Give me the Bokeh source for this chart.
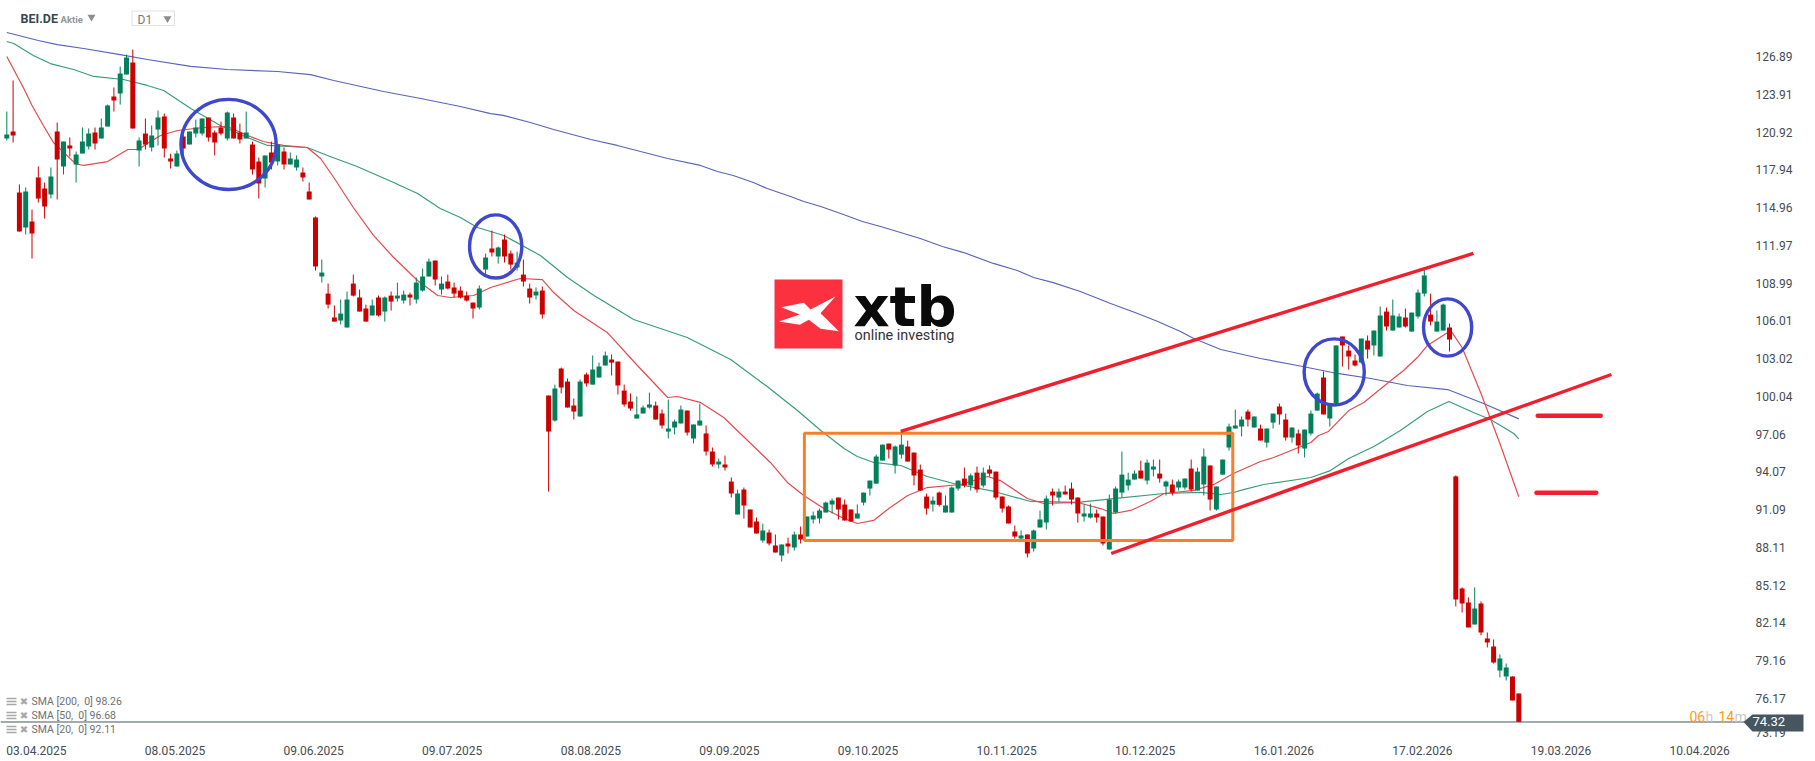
from bokeh.core.properties import value
from bokeh.embed import file_html
from bokeh.models import FixedTicker, Range1d
from bokeh.plotting import figure
from bokeh.resources import INLINE

#-------------- chart data ------------#
opens = [
    120.41, 120.96, 116.14, 113.38, 113.85, 117.33, 116.46, 115.99, 120.96, 118.20,
    119.86, 118.36, 119.22, 119.78, 120.88, 120.41, 121.36, 123.73, 123.96, 125.46,
    126.41, 119.46, 120.80, 119.70, 121.12, 122.15, 118.83, 118.20, 120.57, 119.94,
    120.80, 120.80, 122.07, 120.88, 121.28, 120.41, 122.07, 120.88, 120.41, 119.94,
    118.59, 117.25, 119.30, 118.59, 119.38, 118.36, 118.12, 117.72, 116.22, 114.17,
    109.51, 108.16, 106.27, 106.03, 105.48, 108.95, 107.85, 106.98, 106.43, 107.85,
    106.74, 108.00, 107.77, 107.61, 108.08, 107.69, 108.40, 109.51, 110.77, 108.48,
    109.11, 108.64, 108.40, 108.00, 107.45, 107.06, 110.06, 111.72, 111.09, 112.43,
    111.32, 110.22, 109.66, 108.56, 108.01, 108.40, 100.11, 98.13, 102.24, 101.21,
    99.32, 98.45, 101.77, 100.97, 101.53, 102.48, 102.95, 102.79, 100.50, 99.63,
    98.29, 98.69, 99.16, 99.32, 98.69, 97.26, 97.58, 97.90, 98.92, 96.71,
    97.74, 97.11, 95.68, 94.66, 94.66, 93.31, 90.71, 92.68, 91.10, 90.15,
    88.65, 89.28, 88.26, 87.47, 88.42, 88.10, 89.13, 88.97, 90.31, 90.39,
    90.87, 91.50, 92.05, 91.50, 91.10, 90.39, 91.65, 92.76, 93.15, 94.97,
    96.31, 94.58, 95.44, 96.08, 95.60, 94.26, 92.13, 91.50, 92.44, 90.86,
    90.86, 92.76, 93.55, 93.00, 94.02, 93.00, 94.26, 94.10, 92.13, 91.34,
    89.36, 88.81, 89.13, 88.02, 89.68, 90.07, 92.52, 92.05, 92.52, 92.76,
    92.05, 90.55, 90.47, 90.78, 90.55, 87.94, 90.86, 92.44, 93.00, 93.47,
    94.18, 93.39, 94.26, 93.94, 92.92, 93.08, 92.84, 92.84, 94.34, 92.60,
    93.08, 94.58, 91.10, 93.86, 96.00, 97.50, 97.66, 98.84, 97.58, 97.50,
    96.39, 97.97, 99.24, 98.21, 96.79, 97.11, 95.92, 97.11, 98.92, 101.53,
    98.29, 99.47, 104.77, 103.66, 102.87, 102.71, 104.45, 104.06, 103.19, 106.74,
    105.24, 105.48, 106.27, 105.16, 106.35, 108.16, 106.50, 105.16, 105.24, 105.48,
    93.72, 84.87, 83.76, 82.03, 83.68, 80.92, 80.29, 78.39, 77.92, 77.92,
    76.57,
]
highs = [
    122.54, 124.99, 116.78, 116.54, 114.80, 118.20, 116.93, 118.12, 121.67, 120.17,
    120.49, 119.38, 121.28, 121.20, 121.28, 121.99, 123.09, 124.44, 126.10, 127.04,
    127.44, 120.49, 121.99, 121.44, 122.62, 122.38, 119.20, 119.46, 120.96, 120.96,
    121.91, 121.99, 122.07, 121.04, 121.75, 122.54, 122.38, 121.59, 122.54, 120.17,
    118.91, 119.07, 120.17, 119.94, 119.70, 119.30, 119.07, 118.12, 116.93, 114.25,
    110.85, 108.95, 107.22, 107.69, 108.32, 109.66, 108.48, 107.29, 107.69, 108.00,
    107.93, 108.32, 109.03, 108.40, 108.24, 109.43, 110.14, 110.93, 110.77, 109.51,
    109.66, 109.03, 108.72, 108.32, 107.45, 108.80, 111.32, 113.14, 111.88, 112.82,
    111.56, 111.48, 110.85, 108.95, 108.64, 108.72, 100.11, 100.97, 102.32, 101.45,
    99.87, 101.37, 101.92, 103.27, 102.71, 103.58, 103.35, 102.79, 100.97, 100.27,
    100.03, 99.32, 100.34, 99.63, 99.00, 99.79, 98.21, 99.32, 98.92, 97.82,
    99.47, 97.74, 96.00, 95.13, 95.37, 93.63, 92.68, 92.84, 91.10, 90.47,
    89.99, 89.52, 89.13, 88.34, 88.89, 89.36, 89.76, 90.55, 90.94, 91.18,
    91.73, 91.97, 92.05, 91.89, 91.10, 91.50, 92.44, 93.39, 95.44, 96.23,
    96.31, 96.16, 97.34, 96.55, 95.60, 94.66, 92.36, 92.13, 92.52, 92.21,
    92.92, 93.39, 94.42, 93.94, 94.50, 94.42, 94.58, 94.10, 92.13, 91.42,
    89.84, 89.44, 89.13, 89.52, 91.02, 92.21, 92.76, 92.76, 93.00, 93.23,
    92.05, 91.50, 91.57, 91.10, 90.55, 92.29, 92.92, 95.68, 94.02, 94.18,
    94.97, 95.05, 95.05, 95.05, 93.39, 93.47, 93.47, 93.55, 95.05, 94.42,
    95.92, 94.58, 92.92, 95.05, 97.89, 99.00, 98.45, 99.00, 98.45, 97.81,
    97.50, 98.68, 99.47, 98.68, 97.58, 97.42, 97.42, 98.92, 100.34, 102.00,
    99.32, 104.06, 104.77, 104.06, 103.34, 104.61, 104.85, 105.24, 107.14, 107.06,
    107.69, 106.58, 106.98, 106.66, 108.48, 110.06, 108.16, 106.82, 107.37, 105.79,
    93.80, 84.95, 84.16, 84.95, 83.84, 81.39, 80.84, 79.66, 78.94, 77.92,
    76.57,
]
lows = [
    120.25, 120.09, 113.06, 112.83, 110.93, 115.35, 114.09, 115.67, 115.59, 117.57,
    118.99, 116.93, 119.22, 119.54, 119.54, 120.41, 121.36, 122.54, 123.09, 125.46,
    121.20, 118.20, 119.54, 119.38, 119.86, 118.91, 118.04, 118.20, 118.99, 119.94,
    120.49, 120.65, 120.17, 119.07, 120.65, 120.25, 120.41, 120.01, 120.41, 117.57,
    115.67, 116.54, 117.96, 118.28, 117.96, 118.36, 117.88, 117.01, 115.59, 109.98,
    109.03, 106.98, 105.95, 105.71, 105.48, 107.93, 106.74, 105.95, 106.43, 106.35,
    105.95, 106.82, 107.53, 107.37, 107.22, 107.37, 108.32, 109.51, 108.80, 108.08,
    108.48, 107.85, 107.77, 107.53, 106.19, 106.90, 109.66, 111.09, 110.53, 110.61,
    110.06, 109.98, 108.72, 107.37, 107.69, 106.19, 92.52, 98.05, 100.27, 99.16,
    98.21, 98.45, 100.82, 100.97, 101.53, 102.48, 101.69, 100.19, 99.24, 98.92,
    98.29, 98.69, 99.08, 98.21, 97.50, 96.71, 97.03, 97.90, 96.95, 96.32,
    97.74, 95.37, 94.50, 94.34, 94.18, 92.05, 90.71, 90.39, 89.68, 89.21,
    88.49, 88.26, 87.71, 86.99, 87.63, 87.86, 88.42, 88.97, 90.00, 90.00,
    90.87, 90.79, 90.31, 90.23, 90.15, 90.39, 91.42, 92.21, 93.15, 94.97,
    95.13, 93.94, 95.13, 94.89, 93.00, 92.60, 90.70, 90.94, 91.34, 90.86,
    90.86, 92.60, 92.84, 92.60, 92.44, 92.84, 93.71, 91.89, 90.86, 90.00,
    88.81, 88.73, 87.31, 87.78, 89.68, 89.52, 91.42, 91.73, 92.29, 91.50,
    90.07, 90.15, 90.39, 90.07, 88.26, 87.94, 90.78, 92.05, 92.60, 93.47,
    93.55, 93.08, 93.71, 93.23, 92.21, 92.21, 92.60, 92.68, 92.52, 92.60,
    92.21, 91.02, 91.02, 93.86, 95.76, 97.50, 96.87, 97.66, 97.58, 96.55,
    96.00, 97.50, 97.81, 96.55, 96.39, 95.53, 95.21, 96.95, 98.92, 98.61,
    97.66, 99.47, 102.40, 102.16, 102.40, 102.63, 103.03, 103.27, 103.19, 105.24,
    105.24, 105.48, 105.48, 105.16, 106.19, 107.93, 105.64, 105.16, 105.24, 103.58,
    83.45, 82.97, 81.79, 82.03, 81.16, 80.21, 78.94, 77.84, 77.60, 76.02,
    74.32,
]
closes = [
    120.72, 120.65, 113.06, 116.22, 112.90, 115.67, 115.04, 117.41, 118.75, 120.17,
    119.62, 119.15, 120.17, 120.80, 120.01, 121.28, 123.02, 123.41, 125.54, 126.81,
    121.20, 120.25, 119.94, 120.65, 122.07, 119.62, 118.59, 119.22, 119.62, 120.96,
    121.28, 121.99, 120.49, 120.09, 120.80, 122.46, 120.41, 120.33, 120.88, 117.96,
    116.86, 119.07, 118.51, 119.94, 118.36, 118.83, 118.75, 117.33, 115.59, 110.30,
    109.82, 107.29, 105.95, 106.58, 107.69, 108.00, 106.74, 105.95, 107.22, 106.43,
    107.85, 107.53, 108.00, 108.08, 107.85, 109.03, 109.51, 110.69, 109.27, 108.95,
    108.56, 108.16, 107.85, 107.61, 106.98, 108.56, 111.01, 111.40, 111.80, 111.09,
    110.45, 110.61, 109.11, 107.85, 108.32, 106.51, 97.26, 100.66, 100.74, 99.16,
    98.84, 101.21, 101.06, 102.16, 102.40, 103.27, 102.71, 100.90, 99.40, 99.08,
    98.61, 99.16, 99.40, 98.21, 97.74, 97.50, 98.05, 99.00, 97.18, 97.82,
    98.13, 95.68, 94.66, 94.89, 94.42, 92.37, 92.37, 91.42, 89.68, 89.21,
    89.44, 88.42, 87.71, 88.34, 88.18, 89.13, 88.73, 90.55, 90.63, 91.02,
    91.65, 91.81, 91.10, 90.23, 90.15, 90.79, 92.44, 93.39, 95.29, 96.23,
    95.84, 96.08, 96.23, 94.89, 93.79, 92.60, 91.18, 91.81, 91.47, 91.42,
    92.84, 93.39, 93.00, 93.79, 92.68, 94.02, 93.94, 92.05, 91.18, 90.00,
    88.97, 89.05, 87.62, 89.44, 90.31, 91.97, 92.21, 92.52, 92.29, 91.89,
    90.78, 90.78, 90.78, 90.47, 88.41, 91.89, 92.76, 93.86, 93.47, 93.94,
    93.55, 94.81, 94.50, 93.55, 93.31, 92.44, 93.31, 93.55, 92.68, 94.10,
    95.29, 91.89, 92.92, 95.05, 97.66, 97.74, 98.21, 98.21, 98.45, 96.55,
    97.50, 98.68, 98.61, 96.79, 97.58, 96.16, 97.42, 98.68, 100.26, 98.61,
    99.32, 104.06, 104.06, 103.19, 102.48, 104.61, 103.74, 105.24, 106.43, 105.56,
    106.43, 106.35, 105.56, 106.66, 108.24, 109.59, 105.95, 105.95, 107.29, 104.53,
    84.00, 83.68, 81.79, 83.29, 81.39, 80.60, 79.02, 79.34, 78.63, 76.02,
    74.32,
]

sma200_bars = [0, 5, 8, 12.2, 18, 22.3, 29.2, 35, 43, 48.2, 51.9, 59.8, 65.7, 72, 76.8, 78.8, 83.1, 86.8,
               92.7, 96.9, 100.6, 104.9, 110.1, 112.8, 115.3, 118.5, 120.7, 124.4, 126.5, 129.2, 132.8,
               135.8, 138.7, 145, 148.5, 151.9, 156.6, 160.4, 163, 166.1, 170.4, 175.2, 179.5, 182.7,
               186.3, 188.4, 192.7, 199, 204.9, 211.2, 216.5, 222.3, 228.7, 234.4, 240]
sma200 = [128.78, 128.15, 127.83, 127.52, 127.04, 126.65, 126.10, 125.86, 125.70, 125.46, 124.99, 124.12,
          123.57, 122.94, 122.38, 122.23, 121.67, 121.12, 120.33, 119.86, 119.38, 118.83, 118.28, 117.80,
          117.49, 116.93, 116.46, 115.83, 115.43, 115.04, 114.41, 113.85, 113.46, 112.51, 111.88, 111.40,
          110.54, 109.98, 109.43, 109.03, 108.32, 107.38, 106.59, 105.95, 105.17, 104.61, 103.74, 103.03,
          102.48, 101.85, 101.45, 100.90, 100.58, 99.48, 98.26]

sma50_bars = [0, 1.1, 4.2, 6.9, 10.6, 13.8, 18.5, 22.3, 24.9, 29.2, 33.9, 38.2, 41.4, 47.7, 50.9, 55.6, 61.4,
              65.2, 68.8, 72, 74.7, 78.9, 84.7, 89, 93.2, 99.5, 108, 114.9, 120.7, 125.5, 129.2, 132.9, 135,
              137.6, 141.9, 146.1, 150.3, 156.7, 162.5, 170, 175.7, 183.7, 189.5, 192.7, 194.7, 196.3, 199.5,
              207, 210.1, 213, 217, 221.2, 225.5, 228.9, 232.8, 235.5, 239.2, 240]
sma50 = [128.07, 127.91, 126.97, 126.33, 125.86, 125.31, 125.07, 124.60, 124.20, 122.78, 121.44, 120.49,
         119.86, 119.70, 119.07, 118.20, 116.93, 116.07, 114.88, 114.17, 113.38, 112.75, 111.17, 109.43,
         108.01, 106.11, 104.69, 102.95, 100.82, 98.92, 97.34, 95.92, 95.29, 94.82, 94.58, 93.71, 93.16,
         92.53, 91.74, 91.66, 91.97, 92.37, 92.45, 92.29, 92.45, 92.68, 93.08, 93.63, 94.18, 95.13, 96.08,
         97.34, 98.84, 99.64, 98.77, 98.21, 97.11, 96.68]

sma20_bars = [0, 2.7, 4, 5.8, 7.4, 10.9, 12.2, 16, 19.2, 20.9, 22.3, 24.4, 27.1, 31.2, 35, 38.2, 40.7, 43.9,
              47.7, 49.8, 51.9, 55, 58.2, 61.4, 65.2, 68.4, 70.4, 74.1, 76.8, 81.5, 85, 86.8, 90, 95.3,
              100.1, 104.9, 106.4, 110.1, 113.8, 121.2, 123.9, 126.5, 129.7, 132.9, 135, 137.6, 140, 143,
              146.1, 151.4, 155.7, 157.7, 162, 164.6, 170, 173.6, 175.7, 178.4, 181.5, 183.7, 188.4, 191.6,
              194.7, 199, 201.1, 207, 208.2, 209.8, 213, 215.4, 219.1, 221.7, 223.9, 225.5, 229.2, 231,
              234, 237, 240]
sma20 = [126.89, 124.36, 123.02, 121.44, 120.09, 118.43, 118.28, 118.59, 119.54, 119.54, 120.02, 120.65,
         121.04, 121.28, 121.36, 120.65, 120.17, 119.86, 119.70, 118.83, 117.33, 114.96, 112.75, 111.01,
         109.19, 108.01, 107.85, 108.01, 108.64, 109.35, 109.27, 108.24, 106.82, 105.09, 102.48, 99.95,
         100.03, 99.56, 98.37, 94.82, 93.24, 92.21, 91.18, 90.39, 90.00, 90.24, 91.18, 92.21, 92.84, 93.08,
         93.71, 93.39, 91.97, 91.58, 91.66, 91.18, 90.79, 91.03, 91.74, 92.37, 92.61, 93.08, 93.95, 94.90,
         95.21, 96.40, 96.95, 97.27, 98.92, 99.56, 101.06, 102.08, 103.11, 104.06, 105.24, 103.90, 100.27,
         96.32, 92.11]

last_price = 74.32
sma_legend = ["SMA [200,\u00a0 0] 98.26", "SMA [50,\u00a0 0] 96.68", "SMA [20,\u00a0 0] 92.11"]
price_ticks = [126.89, 123.91, 120.92, 117.94, 114.96, 111.97, 108.99, 106.01, 103.02, 100.04, 97.06, 94.07,
               91.09, 88.11, 85.12, 82.14, 79.16, 76.17, 73.49]
price_labels = ["126.89", "123.91", "120.92", "117.94", "114.96", "111.97", "108.99", "106.01", "103.02",
                "100.04", "97.06", "94.07", "91.09", "88.11", "85.12", "82.14", "79.16", "76.17", "73.19"]
date_ticks = [4.7, 26.7, 48.7, 70.7, 92.7, 114.7, 136.7, 158.7, 180.7, 202.7, 224.7, 246.7, 268.7]
date_labels = ["03.04.2025", "08.05.2025", "09.06.2025", "09.07.2025", "08.08.2025", "09.09.2025",
               "09.10.2025", "10.11.2025", "10.12.2025", "16.01.2026", "17.02.2026", "19.03.2026", "10.04.2026"]
#--------------------------------------#

#------------- scale setup ------------#
BAR_PX = 6.3        # one candle step on screen
PRICE_PX = 12.66    # one price unit on screen
TOP_PRICE = 131.31  # price at the top edge

def bx(px):
    return px / BAR_PX - 1

def pr(py):
    return TOP_PRICE - py / PRICE_PX

GREEN = "#03805a"
RED = "#cc0000"
TREND = "#f01f2d"
CIRCLE = "#3f47cc"
SLATE = "#455660"
AXIS_TEXT = "#454c52"
#--------------------------------------#

p = figure(width=1815, height=761, output_backend="svg", toolbar_location=None,
           x_range=Range1d(bx(0), bx(1815)), y_range=Range1d(pr(738), pr(0)), y_axis_location="right",
           min_border_left=0, min_border_top=0, min_border_right=0, min_border_bottom=23)
p.outline_line_color = None
p.grid.visible = False
p.background_fill_color = "white"

for ax in p.axis:
    ax.axis_line_color = None
    ax.major_tick_line_color = None
    ax.minor_tick_line_color = None
    ax.major_label_text_font = "Roboto"
    ax.major_label_text_font_size = "12px"
    ax.major_label_text_color = AXIS_TEXT
p.xaxis.ticker = FixedTicker(ticks=date_ticks)
p.xaxis.major_label_overrides = dict(zip(date_ticks, date_labels))
p.xaxis.major_label_standoff = 1
p.yaxis.ticker = FixedTicker(ticks=price_ticks)
p.yaxis.major_label_overrides = dict(zip(price_ticks, price_labels))
p.yaxis.major_label_standoff = 5
p.yaxis.fixed_location = bx(1744)

#--------------- moving averages -------#
p.line(sma200_bars, sma200, line_color="#5c63bb", line_width=1.2)
p.line(sma50_bars, sma50, line_color="#3a9c7b", line_width=1.2)
p.line(sma20_bars, sma20, line_color="#e24a4f", line_width=1.2)

#--------------- candles ---------------#
bars = list(range(len(closes)))
colors = [GREEN if c > o else RED for o, c in zip(opens, closes)]
p.segment(bars, highs, bars, lows, line_color=colors, line_width=1)
p.vbar(bars, width=0.79, top=[max(o, c) for o, c in zip(opens, closes)],
       bottom=[min(o, c) for o, c in zip(opens, closes)], fill_color=colors, line_color=None)

#--------------- last price ------------#
p.line([bx(0), bx(1745)], [last_price, last_price], line_color=SLATE, line_width=1)

#--------------- drawings --------------#
p.quad(left=126.6, right=194.6, top=97.13, bottom=88.66, fill_color=None, line_color="#f97f2a", line_width=3)
p.line([141.9, 232.8], [97.27, 111.33], line_color=TREND, line_width=3.4)
p.line([175.3, 254.7], [87.63, 101.77], line_color=TREND, line_width=3.4)
p.line([243, 253], [98.5, 98.5], line_color=TREND, line_width=4.5, line_cap="round")
p.line([242.8, 252.3], [92.42, 92.42], line_color=TREND, line_width=4.5, line_cap="round")
p.ellipse([35.2, 77.6, 210.7, 228.7], [119.94, 111.88, 101.97, 105.48], width=[15.1, 8.3, 9.55, 7.64],
          height=[7.12, 4.99, 5.23, 4.52], fill_color=None, line_color=CIRCLE, line_width=3.4)

#--------------- logo ------------------#
p.quad(left=bx(774), right=bx(842), top=pr(279), bottom=pr(348), fill_color="#fb3140", line_color=None)
logo_x = [122, 190, 210, 285, 240, 295, 240, 205, 178, 115, 178]
logo_y = [140, 127, 147, 108, 158, 212, 205, 178, 193, 183, 162]
p.patch([bx(740 + v / 3) for v in logo_x], [pr(260 + v / 3) for v in logo_y], fill_color="white", line_color=None)
p.text([bx(853)], [pr(306)], text=["xtb"], text_font=value("DejaVu Sans"), text_font_style="bold",
       text_font_size="56px", text_color="#0a0a0a", text_baseline="alphabetic")
p.text([bx(854)], [pr(335)], text=["online investing"], text_font=value("Roboto"), text_font_size="14.4px",
       text_color="#333333", text_baseline="alphabetic")

#--------------- header ----------------#
p.text([bx(20)], [pr(18)], text=["BEI.DE"], text_font=value("Roboto"), text_font_style="bold",
       text_font_size="12.5px", text_color="#37474f", text_baseline="middle")
p.text([bx(60)], [pr(19)], text=["Aktie"], text_font=value("Roboto"), text_font_style="bold",
       text_font_size="9.5px", text_color="#90979c", text_baseline="middle")
p.scatter([bx(91), bx(167)], [pr(16.5), pr(18)], marker="inverted_triangle", size=8, fill_color="#8c8c8c",
          line_color=None)
p.quad(left=bx(131.5), right=bx(174), top=pr(10.5), bottom=pr(25), fill_color=None, line_color="#e2e2e2")
p.text([bx(137)], [pr(19.5)], text=["D1"], text_font=value("Roboto"), text_font_size="12px",
       text_color="#7a7a7a", text_baseline="middle")

#--------------- sma legend ------------#
for row, txt in zip([701, 715, 729], sma_legend):
    for offset in [-3, 0, 3]:
        p.line([bx(6), bx(16)], [pr(row + offset), pr(row + offset)], line_color="#a8a8a8", line_width=1.6)
    p.text([bx(23.5)], [pr(row)], text=["\u2716"], text_font=value("DejaVu Sans"), text_font_size="10px",
           text_color="#a8a8a8", text_align="center", text_baseline="middle")
    p.text([bx(31)], [pr(row)], text=[txt], text_font=value("Roboto"), text_font_size="10.5px",
           text_color="#707070", text_baseline="middle")

#--------------- countdown -------------#
count_parts = [("06", 1689, "#ff9a1f"), ("h", 1705, "#c9c9c9"), ("14", 1718, "#ff9a1f"), ("m", 1734, "#c9c9c9")]
for txt, px, col in count_parts:
    p.text([bx(px)], [pr(716)], text=[txt], text_font=value("Roboto"), text_font_size="14px", text_color=col,
           text_baseline="middle")

#--------------- price tag -------------#
p.patch([bx(1743), bx(1752), bx(1803), bx(1803), bx(1752)],
        [last_price, pr(714), pr(714), pr(731), pr(731)],
        fill_color=SLATE, line_color=None, level="overlay")
p.text([bx(1752)], [last_price], text=["%.2f" % last_price], text_font=value("Roboto"), text_font_size="13px",
       text_color="white", text_baseline="middle", level="overlay")

open("out.html", "w").write(file_html(p, INLINE))
